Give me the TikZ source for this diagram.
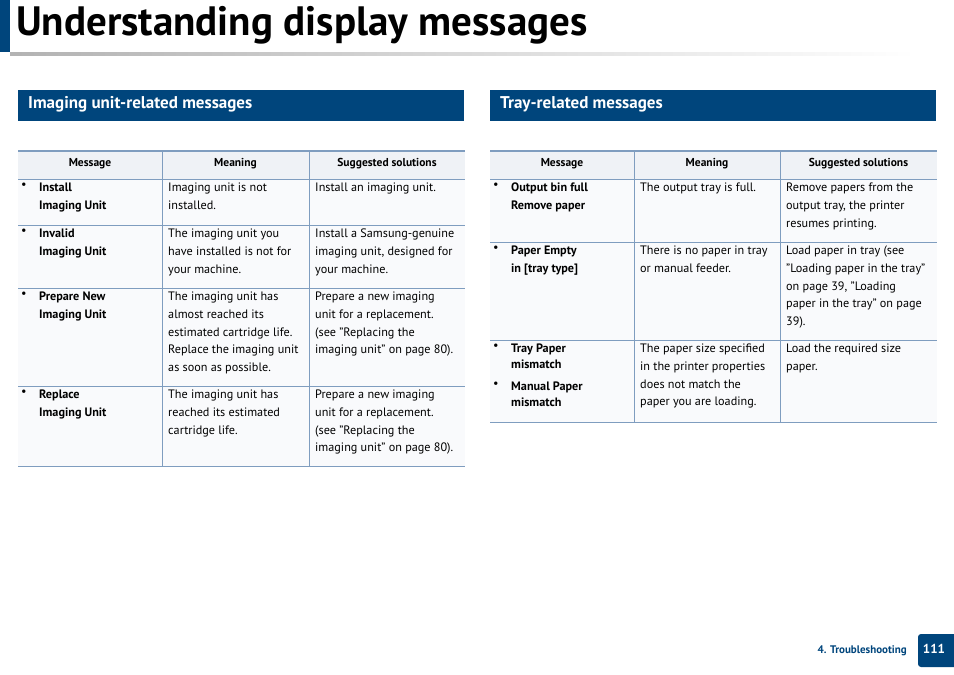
\documentclass[tikz,border=0pt]{standalone}
\usepackage{fontspec}
\setmainfont{PT Sans}
\begin{document}
\begin{tikzpicture}[x=1pt,y=-1pt]
\definecolor{sblue}{HTML}{00457C}
\definecolor{tline}{HTML}{7F9DBF}
\definecolor{hfill}{HTML}{EFF2F6}
\definecolor{bfill}{HTML}{F9FAFC}
\tikzset{
 txt/.style={anchor=north west,inner sep=0pt,align=left,font=\fontsize{12.2}{17.7}\selectfont},
 hd/.style={inner sep=0pt,font=\bfseries\fontsize{11.5}{14}\selectfont},
 sec/.style={anchor=west,inner sep=0pt,text=white,font=\bfseries\fontsize{17}{20}\selectfont},
 bul/.style={anchor=north west,inner sep=0pt,font=\fontsize{12.2}{17.7}\selectfont}
}
\useasboundingbox (0,0) rectangle (954,675);
\fill[sblue] (0,0) rectangle (10,52);
\node[anchor=base west,inner sep=0pt,font=\bfseries\fontsize{41}{45}\selectfont] (title) at (16,35) {Understanding display messages};
\shade[left color=gray!60,right color=white] (10,52) rectangle (915,55.5);
% sections
\fill[sblue] (18,90) rectangle (464,121);
\node[sec] (s1) at (28,104) {Imaging unit-related messages};
\fill[sblue] (490,90) rectangle (936,121);
\node[sec] (s2) at (500,104) {Tray-related messages};
% left table
\fill[bfill] (18,179) rectangle (465,466);
\fill[hfill] (18,151) rectangle (465,179);
\draw[tline,line width=0.8pt] (18,179) -- (465,179) (18,225) -- (465,225) (18,288) -- (465,288) (18,386) -- (465,386) (18,466) -- (465,466);
\draw[tline,line width=0.8pt] (162,151) -- (162,466) (309,151) -- (309,466);
\draw[tline,line width=2pt] (18,151) -- (465,151);
\node[hd] (h1) at (90,164) {Message};
\node[hd] (h2) at (235.5,164) {Meaning};
\node[hd] (h3) at (387,164) {Suggested solutions};
\foreach \y in {183,229,292,390} \node[bul] at (21,\y) {•};
\node[txt] (m1) at (39,183) {\textbf{Install}\\\textbf{Imaging Unit}};
\node[txt] at (168,183) {Imaging unit is not\\installed.};
\node[txt] at (315,183) {Install an imaging unit.};
\node[txt] (m2) at (39,229) {\textbf{Invalid}\\\textbf{Imaging Unit}};
\node[txt] at (168,229) {The imaging unit you\\have installed is not for\\your machine.};
\node[txt] at (315,229) {Install a Samsung-genuine\\imaging unit, designed for\\your machine.};
\node[txt] (m3) at (39,292) {\textbf{Prepare New}\\\textbf{Imaging Unit}};
\node[txt] at (168,292) {The imaging unit has\\almost reached its\\estimated cartridge life.\\Replace the imaging unit\\as soon as possible.};
\node[txt] at (315,292) {Prepare a new imaging\\unit for a replacement.\\(see "Replacing the\\imaging unit" on page 80).};
\node[txt] (m4) at (39,390) {\textbf{Replace}\\\textbf{Imaging Unit}};
\node[txt] at (168,390) {The imaging unit has\\reached its estimated\\cartridge life.};
\node[txt] at (315,390) {Prepare a new imaging\\unit for a replacement.\\(see "Replacing the\\imaging unit" on page 80).};
% right table
\fill[bfill] (490,179) rectangle (937,422);
\fill[hfill] (490,151) rectangle (937,179);
\draw[tline,line width=0.8pt] (490,179) -- (937,179) (490,242) -- (937,242) (490,340) -- (937,340) (490,422) -- (937,422);
\draw[tline,line width=0.8pt] (634,151) -- (634,422) (780,151) -- (780,422);
\draw[tline,line width=2pt] (490,151) -- (937,151);
\node[hd] (r1) at (562,164) {Message};
\node[hd] (r2) at (707,164) {Meaning};
\node[hd] (r3) at (858.5,164) {Suggested solutions};
\foreach \y in {183,246,344,382} \node[bul] at (493,\y) {•};
\node[txt] (n1) at (511,183) {\textbf{Output bin full}\\\textbf{Remove paper}};
\node[txt] at (640,183) {The output tray is full.};
\node[txt] at (786,183) {Remove papers from the\\output tray, the printer\\resumes printing.};
\node[txt] (n2) at (511,246) {\textbf{Paper Empty}\\\textbf{in [tray type]}};
\node[txt] at (640,246) {There is no paper in tray\\or manual feeder.};
\node[txt] at (786,246) {Load paper in tray (see\\"Loading paper in the tray"\\on page 39, "Loading\\paper in the tray" on page\\39).};
\node[txt,font=\fontsize{12.2}{16}\selectfont] (n3) at (511,344) {\textbf{Tray Paper}\\\textbf{mismatch}};
\node[txt,font=\fontsize{12.2}{16}\selectfont] (n4) at (511,382) {\textbf{Manual Paper}\\\textbf{mismatch}};
\node[txt] at (640,344) {The paper size  specified\\in the printer properties\\does not match the\\paper you are loading.};
\node[txt] at (786,344) {Load the required size\\paper.};
% footer
\node[anchor=east,inner sep=0pt,text=sblue,font=\bfseries\fontsize{11}{13}\selectfont] (ft) at (907,651) {4. Troubleshooting};
\fill[sblue,rounded corners=3pt] (918,634) rectangle (958,667);
\node[inner sep=0pt,text=white,font=\bfseries\fontsize{13}{15}\selectfont] (pg) at (934,649) {111};
\end{tikzpicture}
\end{document}
